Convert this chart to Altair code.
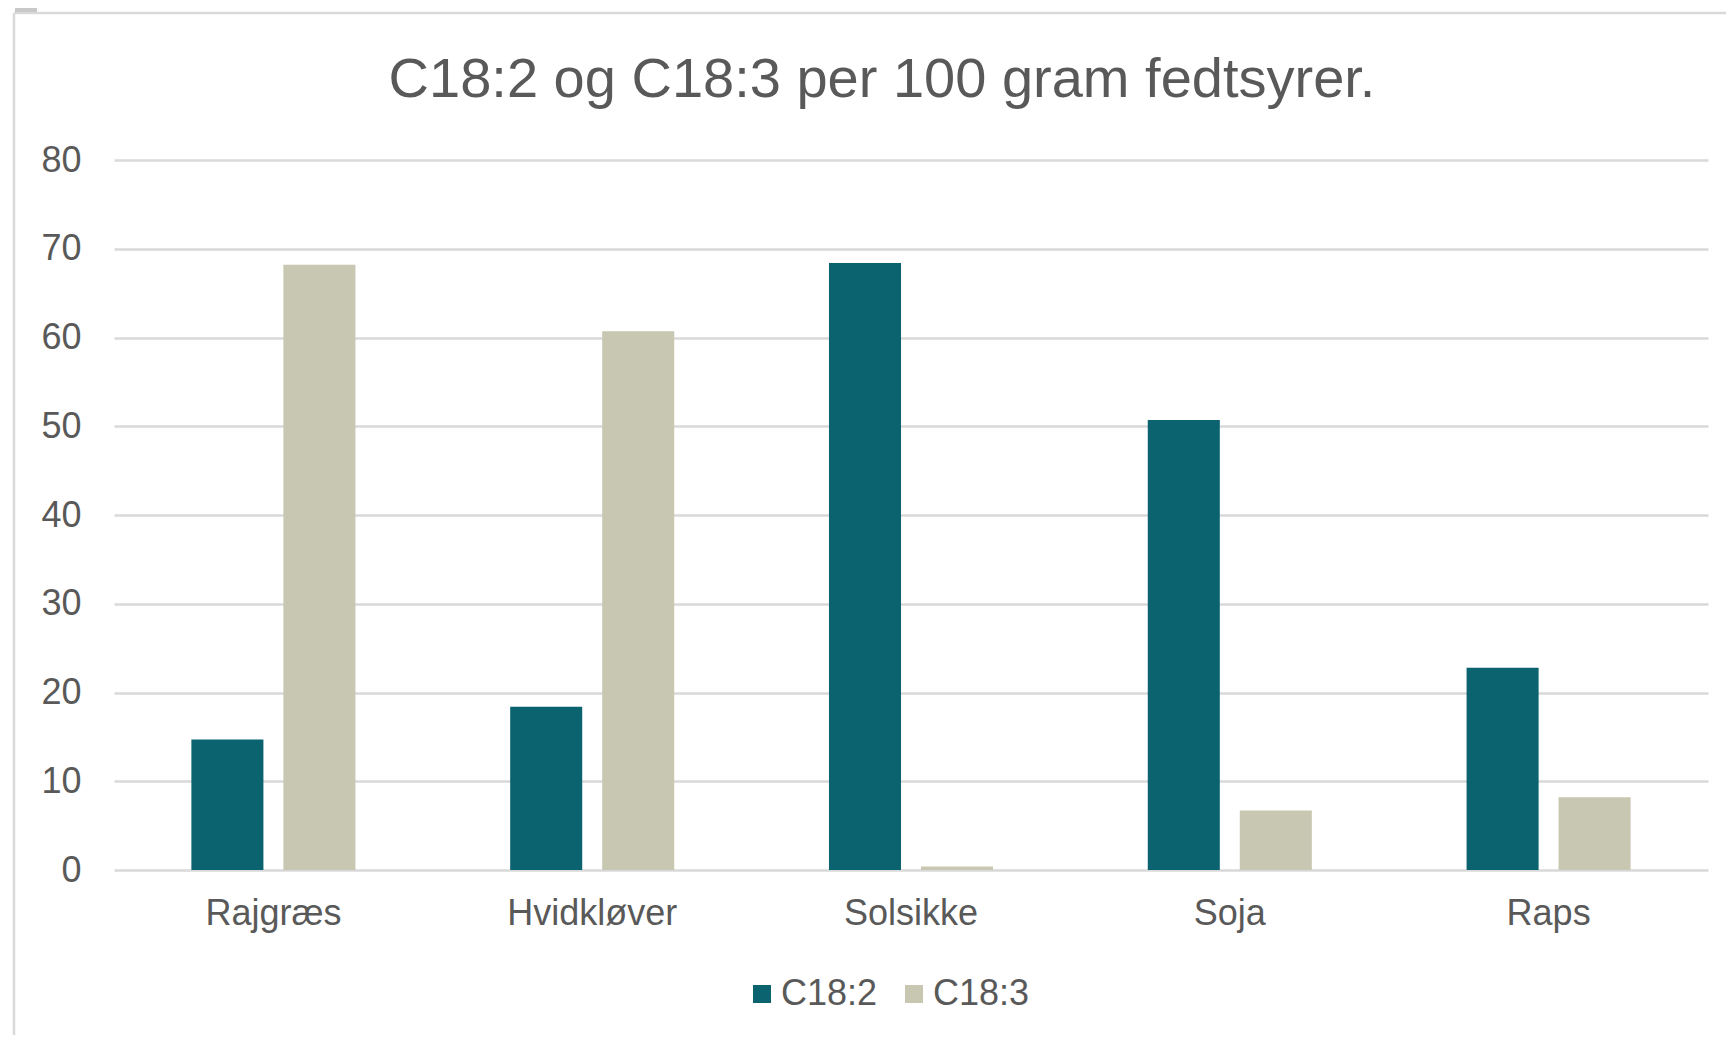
import altair as alt
import pandas as pd

categories = ["Rajgræs", "Hvidkløver", "Solsikke", "Soja", "Raps"]
series = ["C18:2", "C18:3"]
c18_2 = [14.7, 18.4, 68.4, 50.7, 22.8]
c18_3 = [68.2, 60.7, 0.4, 6.7, 8.2]
colors = ["#0B6370", "#C8C7B1"]
y_ticks = [0, 10, 20, 30, 40, 50, 60, 70, 80]
title_text = "C18:2 og C18:3 per 100 gram fedtsyrer."

rows = []
for i, cat in enumerate(categories):
    rows.append({"Kategori": cat, "Serie": series[0], "Værdi": c18_2[i]})
    rows.append({"Kategori": cat, "Serie": series[1], "Værdi": c18_3[i]})
df = pd.DataFrame(rows)

FONT = "Liberation Sans"
TXT = "#595959"
GRID = "#D9D9D9"
W, H = 1594, 710

bars = alt.Chart(df).mark_bar().encode(
    x=alt.X(
        "Kategori:N",
        sort=categories,
        scale=alt.Scale(paddingInner=0, paddingOuter=0),
        axis=alt.Axis(
            title=None, labelAngle=0, labelFontSize=36, labelColor=TXT,
            labelFont=FONT, labelPadding=26, ticks=False, domain=False, grid=False,
        ),
    ),
    xOffset=alt.XOffset(
        "Serie:N", sort=series,
        scale=alt.Scale(paddingInner=0.217, paddingOuter=0.841),
    ),
    y=alt.Y(
        "Værdi:Q",
        scale=alt.Scale(domain=[0, 80], nice=False),
        axis=alt.Axis(
            values=y_ticks, title=None, labelFontSize=36, labelColor=TXT,
            labelFont=FONT, labelPadding=33, ticks=False, domain=False,
            grid=True, gridColor=GRID, gridWidth=2.5,
        ),
    ),
    color=alt.Color(
        "Serie:N", sort=series,
        scale=alt.Scale(domain=series, range=colors),
        legend=alt.Legend(
            title=None, orient="none", direction="horizontal",
            legendX=630, legendY=816,
            symbolType="square", symbolSize=324, symbolStrokeWidth=0,
            labelFontSize=36, labelColor=TXT, labelFont=FONT,
            labelOffset=1, columnPadding=18,
        ),
    ),
)

frame_data = alt.Data(values=[{}])
left_line = alt.Chart(frame_data).mark_rule(color=GRID, strokeWidth=2.5).encode(
    x=alt.value(-100), y=alt.value(-147), y2=alt.value(H + 300)
)
top_line = alt.Chart(frame_data).mark_rule(color=GRID, strokeWidth=2.5).encode(
    x=alt.value(-100), x2=alt.value(W + 200), y=alt.value(-147)
)
tab = alt.Chart(frame_data).mark_rect(color="#C8C8C8").encode(
    x=alt.value(-99), x2=alt.value(-77), y=alt.value(-156), y2=alt.value(-148)
)
title_mark = alt.Chart(frame_data).mark_text(
    fontSize=56, font=FONT, color=TXT, align="center", baseline="alphabetic"
).encode(
    x=alt.value(W / 2 - 29), y=alt.value(-63), text=alt.value(title_text)
)

chart = alt.layer(left_line, top_line, tab, bars, title_mark).properties(
    width=W,
    height=H,
    autosize=alt.AutoSizeParams(type="none"),
    padding={"left": 106, "top": 152, "right": 18, "bottom": 165},
).configure(background="white").configure_view(stroke=None)

chart.save("out.html", embed_options={"renderer": "svg", "actions": False})
